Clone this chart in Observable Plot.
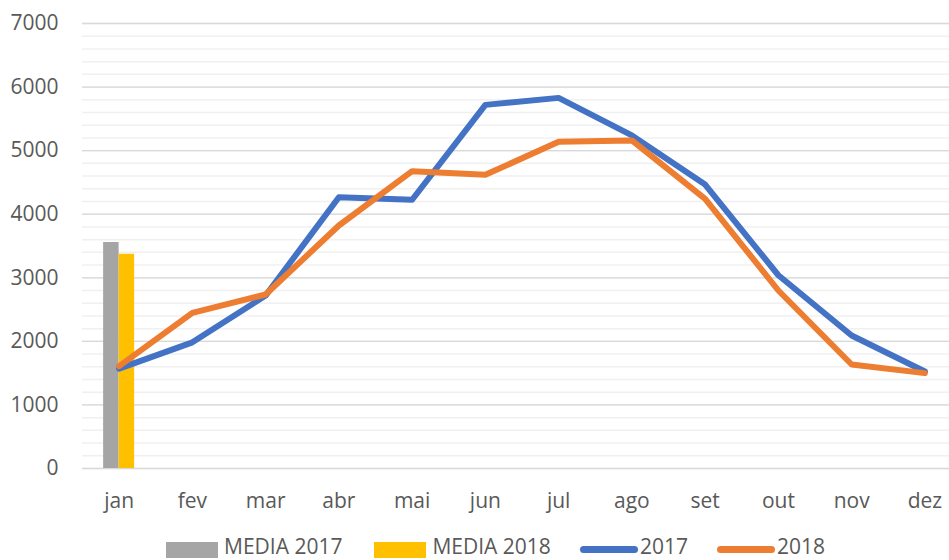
<!DOCTYPE html>
<html><head><meta charset="utf-8">
<script src="https://cdn.jsdelivr.net/npm/d3@7"></script>
<script src="https://cdn.jsdelivr.net/npm/@observablehq/plot@0.6"></script>
<style>
body{margin:0;background:#fff;font-family:"Open Sans",sans-serif;overflow:hidden;}
#wrap{position:relative;width:949px;height:560px;overflow:hidden;}
#legend{position:absolute;left:166px;top:536px;display:flex;font-size:21px;line-height:21px;color:#595959;white-space:nowrap;}
.item{display:flex;align-items:flex-start;}
.sw{width:52px;height:16px;margin-top:6px;margin-right:6px;}
.ln{width:58px;height:7px;border-radius:4px;margin-top:10px;margin-right:2px;}
</style></head>
<body><div id="wrap"><div id="chart"></div><div id="legend"></div></div>
<script>
const months = ["jan","fev","mar","abr","mai","jun","jul","ago","set","out","nov","dez"];
const values2017 = [1570, 1985, 2720, 4268, 4227, 5720, 5830, 5240, 4467, 3040, 2092, 1525];
const values2018 = [1610, 2449, 2737, 3822, 4677, 4620, 5139, 5160, 4242, 2800, 1636, 1500];
const mediaNames = ["MEDIA 2017", "MEDIA 2018"];
const mediaValues = [3555, 3370];
const mediaMonth = "jan";
const yTicks = [0, 1000, 2000, 3000, 4000, 5000, 6000, 7000];
const minorTicks = d3.range(0, 7001, 200);

const colors = {"MEDIA 2017": "#A5A5A5", "MEDIA 2018": "#FFC000", "2017": "#4472C4", "2018": "#ED7D31"};

const rows2017 = months.map((m, i) => ({month: m, value: values2017[i]}));
const rows2018 = months.map((m, i) => ({month: m, value: values2018[i]}));
const bars = mediaNames.map((n, i) => ({name: n, month: mediaMonth, value: mediaValues[i]}));

const chart = Plot.plot({
  width: 949,
  height: 535,
  marginTop: 23,
  marginBottom: 67,
  marginLeft: 82,
  marginRight: 0,
  style: {fontFamily: "'Open Sans', sans-serif", fontSize: "21px", color: "#595959", background: "#fff"},
  x: {domain: months, range: [82, 961], paddingInner: 0.577, paddingOuter: 0.2885, round: false, label: null},
  y: {domain: [0, 7000], label: null},
  marks: [
    Plot.ruleY(minorTicks, {stroke: "#f0f0f0", strokeWidth: 1.5}),
    Plot.ruleY(yTicks, {stroke: "#d9d9d9", strokeWidth: 1.3}),
    Plot.barY([bars[0]], {x: "month", y: "value", fill: colors["MEDIA 2017"], insetRight: 15.5}),
    Plot.barY([bars[1]], {x: "month", y: "value", fill: colors["MEDIA 2018"], insetLeft: 15.5}),
    Plot.line(rows2017, {x: "month", y: "value", stroke: colors["2017"], strokeWidth: 6, strokeLinejoin: "round", strokeLinecap: "round"}),
    Plot.line(rows2018, {x: "month", y: "value", stroke: colors["2018"], strokeWidth: 6, strokeLinejoin: "round", strokeLinecap: "round"}),
    Plot.axisY({ticks: yTicks, tickFormat: d3.format("d"), tickSize: 0, tickPadding: 24, fontSize: 21, label: null}),
    Plot.axisX({tickSize: 0, tickPadding: 25, fontSize: 21, label: null})
  ]
});
document.getElementById("chart").appendChild(chart);

const legend = document.getElementById("legend");
const items = [
  {name: "MEDIA 2017", type: "sw", gap: 32},
  {name: "MEDIA 2018", type: "sw", gap: 29},
  {name: "2017", type: "ln", gap: 29},
  {name: "2018", type: "ln", gap: 0}
];
for (const it of items) {
  const d = document.createElement("div");
  d.className = "item";
  d.style.marginRight = it.gap + "px";
  const s = document.createElement("div");
  s.className = it.type;
  s.style.background = colors[it.name];
  const t = document.createElement("span");
  t.textContent = it.name;
  d.appendChild(s); d.appendChild(t);
  legend.appendChild(d);
}
</script>
</body></html>
